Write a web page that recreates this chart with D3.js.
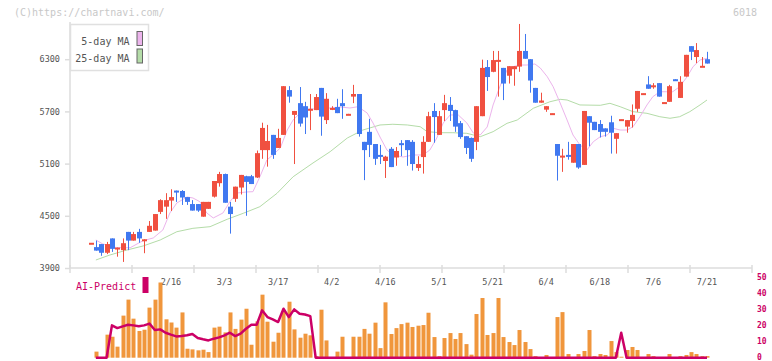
<!DOCTYPE html>
<html>
<head>
<meta charset="utf-8">
<script src="https://cdn.jsdelivr.net/npm/d3@7"></script>
<style>
  body { margin: 0; background: #fff; }
  text { font-family: "DejaVu Sans Mono", monospace; }
</style>
</head>
<body>
<div id="chart"></div>
<script>
/* candle chart + moving averages + volume / AI-Predict panel */

// prices, one per trading day
const opens = [4190,4140,4175,4075,4240,4120,4105,4315,4215,4315,4215,4315,4330,4545,4605,4675,4790,4785,4715,4635,
  4635,4490,4580,4720,4875,4980,4605,4695,4825,4955,4955,4940,5255,5255,5430,5280,5430,5945,5660,5795,
  5760,5725,5715,5970,5600,5735,5750,5795,5668,5870,5900,5350,5465,5325,5200,5130,5270,5170,5335,5370,
  5350,5050,5175,5350,5705,5430,5715,5775,5715,5565,5415,5395,5350,5645,6210,6155,6288,6200,6110,6185,
  6215,6395,6300,5970,5800,5720,5676,5325,5188,5200,5110,5325,5085,5645,5580,5555,5505,5575,5385,5607,
  5525,5590,5730,5906,6010,5985,6025,5803,5810,6070,5855,6100,6450,6325,6220,6300];
const highs = [4190,4215,4175,4200,4240,4135,4240,4315,4315,4350,4230,4440,4520,4690,4760,4805,4790,4795,4715,4680,
  4635,4660,4660,4900,5005,4985,4660,4835,4970,4960,4970,5250,5570,5545,5430,5500,5990,5990,5705,5980,
  5810,5900,5900,5970,5910,5760,5845,5955,5672,6005,5900,5350,5615,5325,5315,5190,5290,5290,5370,5370,
  5370,5185,5415,5695,5795,5705,5890,5865,5720,5590,5415,5400,5760,6295,6290,6395,6395,6200,6220,6220,
  6705,6590,6300,5970,5915,5760,5680,5325,5270,5350,5325,5325,5705,5645,5580,5600,5505,5650,5450,5611,
  5600,5780,5935,5910,6105,6025,6025,5807,6005,6070,6105,6350,6450,6485,6325,6385];
const lows = [4190,4100,4040,4060,4085,4030,3970,4105,4215,4190,4070,4315,4330,4520,4465,4555,4660,4625,4625,4560,
  4545,4490,4580,4710,4835,4650,4295,4660,4745,4500,4865,4935,5155,5065,5155,5280,5430,5800,5095,5525,
  5440,5485,5715,5420,5555,5715,5680,5615,5668,5795,5410,4910,5175,5085,5095,4935,5060,5075,5185,5075,
  5020,5015,4985,5350,5340,5430,5590,5590,5465,5385,5210,5120,5255,5645,5935,6150,5870,5830,6020,5995,
  6155,6305,5915,5800,5800,5695,5676,4905,5005,5145,5110,5040,5085,5300,5485,5400,5410,5215,5215,5607,
  5455,5515,5695,5906,5960,5960,5870,5803,5810,6055,5855,6100,6290,6255,6220,6250];
const closes = [4190,4100,4075,4175,4120,4135,4185,4215,4290,4240,4230,4385,4520,4680,4680,4715,4785,4710,4660,4560,
  4560,4660,4660,4900,4980,4650,4520,4835,4970,4890,4865,5220,5510,5360,5200,5395,5990,5870,5705,5560,
  5630,5730,5865,5640,5845,5740,5680,5760,5672,5900,5440,5255,5315,5155,5180,5180,5060,5245,5315,5255,
  5095,5095,5350,5645,5635,5645,5795,5705,5525,5405,5280,5155,5760,6200,6095,6290,6292,6020,6220,6220,
  6395,6305,6055,5800,5825,5760,5680,5190,5192,5180,5325,5055,5705,5570,5485,5465,5465,5455,5450,5611,
  5600,5660,5935,5910,5960,6000,5870,5807,5990,6055,6040,6350,6385,6405,6224,6250];

// moving averages: [day index, price]
const ma5 = [[1,4222],[2.3,4176],[4.9,4133],[7.4,4133],[9.8,4214],[11.7,4245],[13.5,4337],[14.8,4532],[16.1,4647],
  [18,4716],[19.1,4705],[20.4,4662],[21.7,4532],[22.9,4475],[24.7,4532],[26,4662],[27.3,4762],[29.2,4774],
  [30.3,4777],[31.6,4949],[32.9,5141],[34,5199],[35.4,5279],[36.7,5486],[37.8,5601],[39.1,5682],[40.9,5728],
  [42.8,5728],[44.7,5739],[46.5,5751],[48.4,5739],[49.9,5754],[51.6,5682],[52.7,5567],[54,5406],[55.3,5256],
  [56.4,5199],[58.3,5176],[60.2,5199],[62,5199],[63.3,5256],[64.6,5394],[65.8,5567],[67.1,5659],[68.6,5659],
  [70.2,5567],[71.4,5452],[72.7,5429],[74,5521],[75.1,5774],[76.4,5992],[77.7,6176],[78.8,6214],[80.1,6233],
  [81.4,6233],[82.9,6245],[83.9,6199],[85.2,6099],[86.3,5984],[87.6,5797],[88.9,5601],[90,5429],[91.3,5314],
  [92.6,5256],[93.8,5352],[95.1,5409],[96.4,5429],[97.5,5506],[98.8,5486],[100.1,5486],[101.2,5524],
  [102.5,5639],[103.8,5774],[104.9,5869],[106.2,5926],[107.5,5926],[108.6,5926],[109.9,5984],[111.3,6099],
  [112.4,6214],[113.7,6291],[115,6310]];
const ma25 = [[1,3992],[3.6,4049],[6.8,4107],[9.8,4153],[13,4222],[16.1,4317],[19.1,4356],[22.3,4375],[25.5,4460],
  [28.5,4529],[31.6,4605],[34.8,4759],[37.8,4949],[41.5,5107],[44.7,5237],[47.9,5394],[50.8,5486],[54,5544],
  [56.4,5552],[59.1,5544],[61.5,5524],[62.8,5467],[65.2,5455],[67.6,5455],[70.2,5448],[72.7,5409],[75.1,5467],
  [77.7,5563],[79.6,5601],[82.6,5736],[85.7,5811],[87.6,5839],[88.9,5831],[91.3,5774],[95.1,5770],[96.9,5793],
  [98.8,5754],[101.2,5697],[103.8,5678],[106.2,5639],[108.1,5621],[109.9,5639],[111.8,5697],[113.7,5774],[115,5831]];

// lower panel
const volumes = [0,3.8,0,14.4,13.1,6.9,26.3,36.3,24.4,16.7,17.5,31.3,36.3,47,24,22,18.8,28.3,5.6,5.2,
  4.6,5,3.5,18.8,19.4,15.8,28.3,18,23.8,30.6,8.1,22.7,39.4,22.5,10,15.6,28.8,35,17.7,12.5,
  15,14,1,30,10.8,0,3.8,13.1,0,13.1,13.1,18,15,21.9,6,34.6,14.8,18.5,21,21.9,
  19.2,20,20.4,28.1,12.9,1,12.3,15.4,11.7,15.4,8.5,1.9,27.3,37.3,14.2,15.4,37.3,12.9,9.8,7.9,
  17.3,9.8,5.4,1,0,1.7,0,25.4,28.5,2.3,0,2.3,4.2,17.3,1,2.3,1.7,10.4,3.5,0.6,
  4.8,6.7,4.8,0,2.3,1,0,0,2.3,0,1,1.7,3.5,2.3,1,1];
const aiPredict = [null,0,0,0,20.2,18.5,19.6,20.6,20.2,19.6,20.2,21.3,17.3,17.7,15.6,14.4,13.3,13.5,14,14.8,
  12.3,11.5,10.8,11.9,12.7,14,15.6,13.5,15,18.1,20.6,20.6,29.6,25.4,24,22.3,30.6,25.4,30.2,27.5,
  27,26,0,0,0,0,0,0,0,0,0,0,0,0,0,0,0,0,0,0,
  0,0,0,0,0,0,0,0,0,0,0,0,0,0,0,0,0,0,0,0,
  0,0,0,0,0,0,0,0,0,0,0,0,0,0,0,0,0,0,0,15.6,
  0,0,0,0,0,0,0,0,0,0,0,0,0,0,0,0];

const dateLabels = ["2/16","3/3","3/17","4/2","4/16","5/1","5/21","6/4","6/18","7/6","7/21"];
const dateIndex = [15,25,35,45,55,65,75,85,95,105,115];
const priceTicks = [3900,4500,5100,5700,6300];
const aiTicks = [0,10,20,30,40,50];

const W = 772, H = 361;
const upColor = "#f05040", downColor = "#4078f0";

const svg = d3.select("#chart").append("svg")
  .attr("width", W)
  .attr("height", H);

const x = d3.scaleLinear().domain([0, 115]).range([90.5, 707]);
const y = d3.scaleLinear().domain([3900, 6300]).range([268, 59.2]);
const yv = d3.scaleLinear().domain([0, 50]).range([357.7, 277.7]);
// grid ticks along the bottom axis, 11 equal steps
const xg = d3.scaleLinear().domain([0, 11]).range([70, 752]);

// watermark / code
svg.append("text").attr("x", 14).attr("y", 16)
  .style("font-size", "10px").attr("fill", "#c8c8c8")
  .text("(C)https://chartnavi.com/");
svg.append("text").attr("x", 757).attr("y", 16)
  .attr("text-anchor", "end")
  .style("font-size", "10px").attr("fill", "#c8c8c8")
  .text("6018");

// axes
svg.append("line")
  .attr("x1", 70).attr("x2", 70).attr("y1", 22).attr("y2", 268)
  .attr("stroke", "#ddd").attr("stroke-width", 1.5);
svg.append("line")
  .attr("x1", 70).attr("x2", 752).attr("y1", 268).attr("y2", 268)
  .attr("stroke", "#ddd").attr("stroke-width", 1.5);

svg.append("g").selectAll("line")
  .data(d3.range(12))
  .join("line")
  .attr("x1", d => xg(d)).attr("x2", d => xg(d))
  .attr("y1", 265).attr("y2", 273)
  .attr("stroke", "#ddd").attr("stroke-width", 1.5);

const yAxis = svg.append("g")
  .attr("transform", "translate(70,0)")
  .call(d3.axisLeft(y).tickValues(priceTicks).tickFormat(d3.format("d")).tickSize(5).tickPadding(5));
yAxis.select(".domain").remove();
yAxis.selectAll("line").attr("stroke", "#ddd").attr("stroke-width", 1.5);
yAxis.selectAll("text")
  .style("font-family", "DejaVu Sans Mono, monospace")
  .style("font-size", "8.5px").attr("fill", "#555");

// date labels
svg.append("g").selectAll("text")
  .data(dateLabels)
  .join("text")
  .attr("x", (d, i) => x(dateIndex[i]))
  .attr("y", 285)
  .attr("text-anchor", "middle")
  .style("font-size", "8.5px").attr("fill", "#555")
  .text(d => d);

// moving averages
const maLine = d3.line()
  .x(d => x(d[0]))
  .y(d => y(d[1]));
svg.append("path").datum(ma25)
  .attr("fill", "none").attr("stroke", "#b4dca8").attr("stroke-width", 1)
  .attr("d", maLine);
svg.append("path").datum(ma5)
  .attr("fill", "none").attr("stroke", "#ecb4ec").attr("stroke-width", 1)
  .attr("d", maLine);

// candles
const days = d3.range(opens.length);
const candle = svg.append("g").selectAll("g")
  .data(days)
  .join("g");
candle.append("line")
  .attr("x1", i => Math.round(x(i)) + 0.5).attr("x2", i => Math.round(x(i)) + 0.5)
  .attr("y1", i => y(highs[i])).attr("y2", i => y(lows[i]))
  .attr("stroke", i => closes[i] >= opens[i] ? upColor : downColor)
  .attr("stroke-width", 1);
candle.append("rect")
  .attr("x", i => Math.round(x(i)) - 2)
  .attr("width", 5)
  .attr("y", i => Math.min(y(opens[i]), y(closes[i])))
  .attr("height", i => Math.max(2, Math.abs(y(opens[i]) - y(closes[i]))))
  .attr("fill", i => closes[i] >= opens[i] ? upColor : downColor);

// legend
const lg = svg.append("g");
lg.append("rect")
  .attr("x", 70.5).attr("y", 24.5).attr("width", 78).attr("height", 46)
  .attr("fill", "#fff").attr("stroke", "#e0e0e0").attr("stroke-width", 1.5);
lg.append("text").attr("x", 129.5).attr("y", 44.5).attr("text-anchor", "end")
  .style("font-size", "10px").attr("fill", "#555").text("5-day MA");
lg.append("text").attr("x", 129.5).attr("y", 61.5).attr("text-anchor", "end")
  .style("font-size", "10px").attr("fill", "#555").text("25-day MA");
lg.append("rect").attr("x", 137).attr("y", 31.5).attr("width", 5.5).attr("height", 14)
  .attr("fill", "#ecb4ec").attr("stroke", "#666").attr("stroke-width", 1);
lg.append("rect").attr("x", 137).attr("y", 49).attr("width", 5.5).attr("height", 14)
  .attr("fill", "#b4dca8").attr("stroke", "#666").attr("stroke-width", 1);

// lower panel: volume bars
svg.append("g").selectAll("rect")
  .data(days)
  .join("rect")
  .attr("x", i => Math.round(x(i)) - 1.5)
  .attr("width", 4)
  .attr("y", i => yv(volumes[i]))
  .attr("height", i => yv(0) - yv(volumes[i]))
  .attr("fill", "#f0963c");

// AI-Predict line
const aiLine = d3.line()
  .defined(i => aiPredict[i] !== null)
  .x(i => x(i))
  .y(i => yv(aiPredict[i]));
svg.append("path").datum(days)
  .attr("fill", "none").attr("stroke", "#cc0066").attr("stroke-width", 2.5)
  .attr("stroke-linejoin", "round")
  .attr("d", aiLine);

svg.append("text").attr("x", 76).attr("y", 289.5)
  .style("font-size", "10px").attr("fill", "#cc0066")
  .text("AI-Predict");
svg.append("rect").attr("x", 142.5).attr("y", 277).attr("width", 6).attr("height", 16)
  .attr("fill", "#cc0066");

// right axis of the AI panel
svg.append("g").selectAll("text")
  .data(aiTicks)
  .join("text")
  .attr("x", 757)
  .attr("y", d => yv(d) + 2.7)
  .style("font-size", "8px").style("font-weight", "bold")
  .attr("fill", "#cc0066")
  .text(d => d);
</script>
</body>
</html>
